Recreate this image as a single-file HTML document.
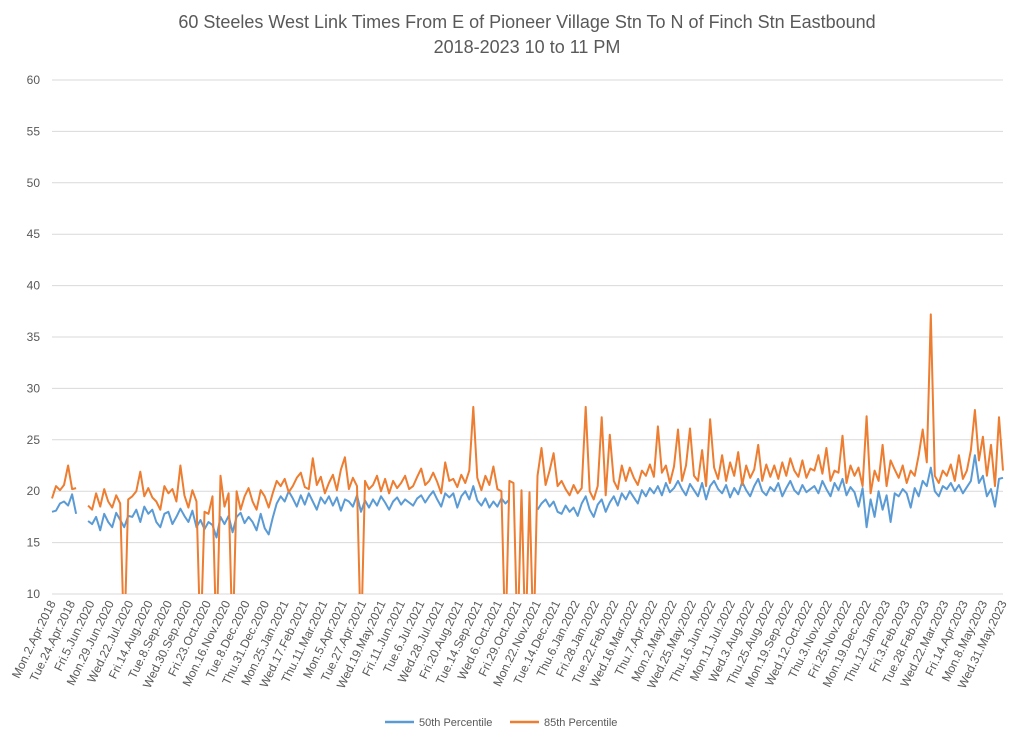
<!DOCTYPE html>
<html><head><meta charset="utf-8"><style>
body{margin:0;background:#fff;}
svg{display:block;font-family:"Liberation Sans",sans-serif;}
</style></head><body>
<svg id="chart" width="1024" height="744">
<rect width="1024" height="744" fill="#fff"/>
<text x="527" y="28" text-anchor="middle" font-size="18" fill="#595959">60 Steeles West Link Times From E of Pioneer Village Stn To N of Finch Stn Eastbound</text>
<text x="527" y="53" text-anchor="middle" font-size="18" fill="#595959">2018-2023 10 to 11 PM</text>
<defs><clipPath id="plotclip"><rect x="40" y="70" width="975" height="524"/></clipPath></defs>
<g id="grid"></g>
<g id="yticks"></g>
<g id="xticks"></g>
<g id="series" clip-path="url(#plotclip)"></g>
<g>
<g><line x1="385" y1="722" x2="414" y2="722" stroke="#5b9bd5" stroke-width="2.5"/><text x="419" y="726" font-size="11" fill="#595959">50th Percentile</text></g>
<g><line x1="510" y1="722" x2="539" y2="722" stroke="#ed7d31" stroke-width="2.5"/><text x="544" y="726" font-size="11" fill="#595959">85th Percentile</text></g>
</g>
</svg>
<script>
const yTicks=[10,15,20,25,30,35,40,45,50,55,60];
const xLabels=["Mon.2.Apr.2018","Tue.24.Apr.2018","Fri.5.Jun.2020","Mon.29.Jun.2020","Wed.22.Jul.2020","Fri.14.Aug.2020","Tue.8.Sep.2020","Wed.30.Sep.2020","Fri.23.Oct.2020","Mon.16.Nov.2020","Tue.8.Dec.2020","Thu.31.Dec.2020","Mon.25.Jan.2021","Wed.17.Feb.2021","Thu.11.Mar.2021","Mon.5.Apr.2021","Tue.27.Apr.2021","Wed.19.May.2021","Fri.11.Jun.2021","Tue.6.Jul.2021","Wed.28.Jul.2021","Fri.20.Aug.2021","Tue.14.Sep.2021","Wed.6.Oct.2021","Fri.29.Oct.2021","Mon.22.Nov.2021","Tue.14.Dec.2021","Thu.6.Jan.2022","Fri.28.Jan.2022","Tue.22.Feb.2022","Wed.16.Mar.2022","Thu.7.Apr.2022","Mon.2.May.2022","Wed.25.May.2022","Thu.16.Jun.2022","Mon.11.Jul.2022","Wed.3.Aug.2022","Thu.25.Aug.2022","Mon.19.Sep.2022","Wed.12.Oct.2022","Thu.3.Nov.2022","Fri.25.Nov.2022","Mon.19.Dec.2022","Thu.12.Jan.2023","Fri.3.Feb.2023","Tue.28.Feb.2023","Wed.22.Mar.2023","Fri.14.Apr.2023","Mon.8.May.2023","Wed.31.May.2023"];
const p50=[18,18.1,18.8,19,18.6,19.7,17.8,null,null,17.1,
16.8,17.5,16.2,17.8,17,16.5,17.9,17.2,16.5,17.6,
17.5,18.2,17,18.5,17.8,18.2,17,16.5,17.8,18,
16.8,17.5,18.3,17.6,17,18.1,16.5,17.2,16.3,17,
16.7,15.5,17.5,16.8,17.6,16,17.5,17.9,16.9,17.5,
17,16.2,17.8,16.4,15.8,17.4,18.8,19.5,19,20,
19.3,18.5,19.6,18.7,19.8,19,18.2,19.4,18.8,19.5,
18.6,19.4,18.1,19.2,19,18.5,19.6,18,19.1,18.4,
19.2,18.6,19.5,18.9,18.2,19,19.4,18.7,19.2,18.9,
18.6,19.3,19.6,18.9,19.5,20,19.2,18.5,19.8,19.4,
19.8,18.4,19.5,20,19.2,20.5,19.1,18.6,19.3,18.4,
19,18.5,19.3,18.8,19.2,null,null,null,null,null,
null,18.2,18.8,19.2,18.5,19,18,17.8,18.6,18,
18.4,17.6,18.8,19.5,18.2,17.5,18.7,19.2,18,18.9,
19.5,18.6,19.8,19.2,20,19.4,18.8,20.1,19.5,20.3,
19.8,20.5,19.6,20.8,19.9,20.3,21,20.2,19.6,20.7,
20.1,19.5,20.8,19.2,20.5,21,20.2,19.8,20.6,19.4,
20.3,19.7,20.9,20.1,19.5,20.5,21.2,20,19.6,20.4,
20,20.8,19.5,20.3,21,20.1,19.7,20.6,19.9,20.2,
20.5,19.8,21,20.2,19.5,20.8,20.1,21.2,19.6,20.4,
19.9,18.5,20.3,16.5,19.2,17.5,20,18.2,19.6,17,
19.8,19.5,20.2,19.8,18.4,20.3,19.5,21,20.5,22.3,
20,19.5,20.5,20.2,20.8,20,20.6,19.8,20.4,21,
23.5,20.8,21.5,19.5,20.2,18.5,21.2,21.3];
const p85=[19.3,20.5,20.1,20.6,22.5,20.2,20.3,null,null,18.6,
18.2,19.8,18.5,20.2,19,18.4,19.6,18.8,5,19.2,
19.5,20,21.9,19.5,20.3,19.4,19,18.2,20.5,19.8,
20.2,19,22.5,19.6,18.4,20.1,19,5,18,17.8,
19.5,5,21.5,18.5,19.8,5,20,18.2,19.5,20.3,
19,18.2,20.1,19.5,18.4,19.8,21,20.5,21.2,19.9,
20.5,21.3,21.8,20.4,20.2,23.2,20.6,21.4,19.8,20.8,
21.6,20.1,22.1,23.3,20.2,21.3,20.5,5,21,20.2,
20.6,21.5,20,21.2,19.8,21,20.3,20.8,21.5,20.2,
20.5,21.4,22.2,20.6,21,21.8,20.9,19.8,22.8,21,
21.2,20.4,21.6,20.8,22,28.2,21.3,20.1,21.5,20.6,
22.4,20.2,20,5,21,20.8,5,20.1,5,19.9,
5,21.5,24.2,20.6,22,23.7,20.5,21,20.2,19.6,
20.6,19.8,20.3,28.2,20,19.2,20.5,27.2,19.6,25.5,
21,20.2,22.5,21,22.3,21.3,20.6,22,21.5,22.6,
21.4,26.3,21.8,22.5,20.8,22.4,26,21,22.5,26.1,
21.5,21,24,20.5,27,22.3,21.2,23.5,21,22.8,
21.5,23.8,20.6,22.5,21.3,22.1,24.5,21,22.6,21.4,
22.5,21.2,22.8,21.5,23.2,22,21.4,23,21.3,22.2,
22,23.5,21.7,24.2,21,22,21.8,25.4,20.8,22.5,
21.5,22.3,20.5,27.3,19.8,22,21,24.5,20.5,23,
22.1,21.3,22.5,20.8,22,21.5,23.5,26,22.8,37.2,
21.5,20.8,22,21.5,22.6,21,23.5,21.2,22,24,
27.9,23,25.3,21.5,24.5,20.5,27.2,22];

const NS='http://www.w3.org/2000/svg';
const X0=52,X1=1003,Y0=594,Y1=80;
const yScale=v=>Y0-(v-10)/(60-10)*(Y0-Y1);
const xScale=i=>X0+i*(X1-X0)/(p50.length-1);
const xLab=i=>X0+i*(X1-X0)/(xLabels.length-1);
function mk(tag,attrs,parent){const e=document.createElementNS(NS,tag);for(const k in attrs)e.setAttribute(k,attrs[k]);parent.appendChild(e);return e;}
const grid=document.getElementById('grid'),yt=document.getElementById('yticks'),xt=document.getElementById('xticks'),ser=document.getElementById('series');
yTicks.forEach(v=>{
 const l=mk('line',{x1:X0,x2:X1,y1:yScale(v),y2:yScale(v),stroke:'#d9d9d9','stroke-width':1},grid);
 
 
 const t=mk('text',{x:40,y:yScale(v)+4,'text-anchor':'end','font-size':12,fill:'#595959'},yt);
 t.textContent=v;
 
 
});
xLabels.forEach((s,i)=>{
 const x=xLab(i)+4,y=603;
 const t=mk('text',{x:x,y:y,'text-anchor':'end','font-size':12,fill:'#595959',transform:`rotate(-64 ${x} ${y})`},xt);
 t.textContent=s;
 
 
});
function path(arr){let d='',pen=false;arr.forEach((v,i)=>{if(v==null){pen=false;return;}d+=(pen?'L':'M')+xScale(i).toFixed(1)+' '+yScale(v).toFixed(1);pen=true;});return d;}
const lb=mk('path',{d:path(p50),fill:'none',stroke:'#5b9bd5','stroke-width':2,'stroke-linejoin':'round'},ser);


const lo=mk('path',{d:path(p85),fill:'none',stroke:'#ed7d31','stroke-width':2,'stroke-linejoin':'round'},ser);


</script>
</body></html>
